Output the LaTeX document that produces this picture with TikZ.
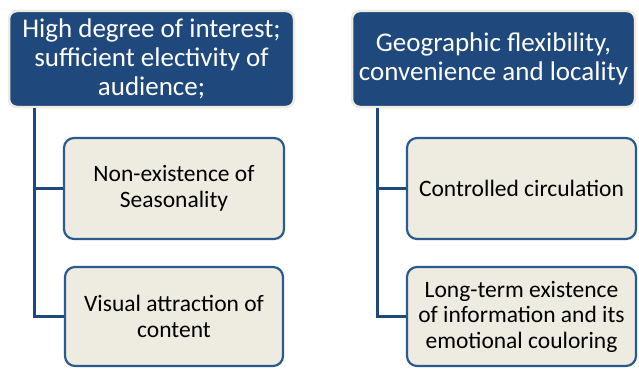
\documentclass[tikz,border=0pt]{standalone}
\usepackage{fontspec}
\setmainfont{Carlito}
\definecolor{hblue}{HTML}{1F497D}
\definecolor{sblue}{HTML}{2A5A8E}
\definecolor{tan}{HTML}{EEECE1}

\begin{document}
\begin{tikzpicture}
  [x=1pt,y=1pt,
   head/.style={rectangle,rounded corners=8pt,fill=hblue,draw=tan,line width=2.5pt,
     text=white,align=center,font=\fontsize{27}{29}\selectfont,inner sep=1pt},
   sub/.style={rectangle,rounded corners=10pt,fill=tan,draw=sblue,line width=2.2pt,
     text=black,align=center,font=\fontsize{23.5}{25.5}\selectfont,inner sep=1pt}]
  \useasboundingbox (0,0) rectangle (639,-369);

  \node[head,minimum width=285,minimum height=96] (h1) at (151.5,-59)
    {High degree of interest;\\sufficient electivity of\\audience;};
  \node[head,minimum width=283,minimum height=96] (h2) at (493.5,-59)
    {Geographic flexibility,\\convenience and locality};

  \node[sub,minimum width=220,minimum height=101] (s1) at (174,-188.5)
    {Non-existence of\\Seasonality};
  \node[sub,minimum width=218,minimum height=99] (s2) at (174,-316.5)
    {Visual attraction of\\content};
  \node[sub,minimum width=229,minimum height=101] (s3) at (521.5,-188.5)
    {Controlled circulation};
  \node[sub,minimum width=229,minimum height=99] (s4) at (521.5,-316.5)
    {Long-term existence\\of information and its\\emotional couloring};

  \draw[line width=3pt,hblue] ([xshift=27]h1.south west) |- (s1.west);
  \draw[line width=3pt,hblue] ([xshift=27]h1.south west) |- (s2.west);
  \draw[line width=3pt,hblue] ([xshift=27]h2.south west) |- (s3.west);
  \draw[line width=3pt,hblue] ([xshift=27]h2.south west) |- (s4.west);
\end{tikzpicture}
\end{document}
